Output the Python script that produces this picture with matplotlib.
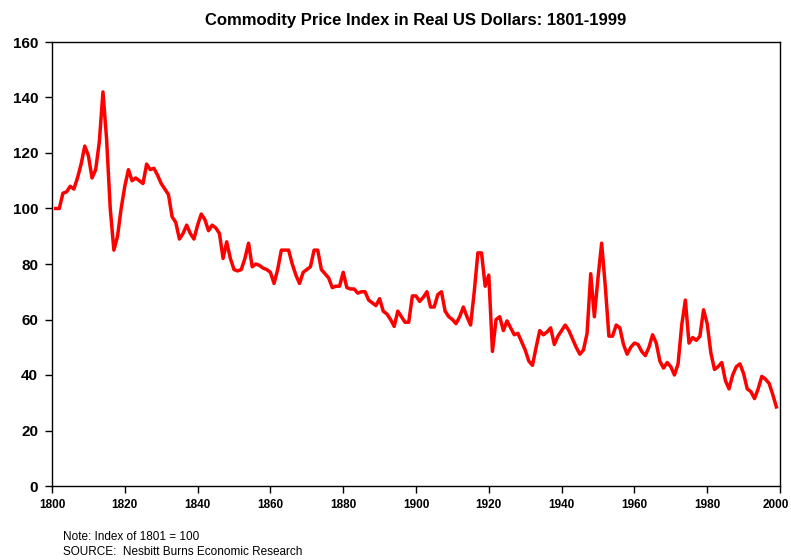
import numpy as np
import matplotlib
matplotlib.use("Agg")
import matplotlib.pyplot as plt

years = list(range(1801, 2000))
index_values = [
    100, 100, 105.5, 106, 108, 107, 111, 116, 122.5, 119,          # 1801-1810
    111, 114, 124, 142, 125, 100, 85, 90, 100, 108,                # 1811-1820
    114, 110, 111, 110, 109, 116, 114, 114.5, 112, 109,            # 1821-1830
    107, 105, 97, 95, 89, 91, 94, 91, 89, 94,                      # 1831-1840
    98, 96, 92, 94, 93, 91, 82, 88, 82, 78,                        # 1841-1850
    77.5, 78, 82, 87.5, 79, 80, 79.5, 78.5, 78, 77,                # 1851-1860
    73, 78, 85, 85, 85, 80, 76, 73, 77, 78,                        # 1861-1870
    79, 85, 85, 78, 76.5, 75, 71.5, 72, 72, 77,                    # 1871-1880
    71.5, 71, 71, 69.5, 70, 70, 67, 66, 65, 67.5,                  # 1881-1890
    63, 62, 60, 57.5, 63, 61, 59, 59, 68.5, 68.5,                  # 1891-1900
    66.5, 68, 70, 64.5, 64.5, 69, 70, 63, 61, 60,                  # 1901-1910
    58.5, 61, 64.5, 61, 58, 70, 84, 84, 72, 76,                    # 1911-1920
    48.5, 60, 61, 56, 59.5, 57, 54.5, 55, 52, 49,                  # 1921-1930
    45, 43.5, 50, 56, 54.5, 55.5, 57, 51, 54, 56,                  # 1931-1940
    58, 56, 53, 50, 47.5, 49, 55, 76.5, 61, 75,                    # 1941-1950
    87.5, 72, 54, 54, 58, 57, 51, 47.5, 50, 51.5,                  # 1951-1960
    51, 48.5, 47, 50, 54.5, 51.5, 45, 42.5, 44.5, 43,              # 1961-1970
    40, 44, 58, 67, 51.5, 53.5, 52.5, 54, 63.5, 58.5,              # 1971-1980
    48, 42, 43, 44.5, 38, 35, 40, 43, 44, 40.5,                    # 1981-1990
    35, 34, 31.5, 35, 39.5, 38.5, 37, 33, 28.5,                    # 1991-1999
]
x_ticks = [1800, 1820, 1840, 1860, 1880, 1900, 1920, 1940, 1960, 1980, 2000]
y_ticks = [0, 20, 40, 60, 80, 100, 120, 140, 160]

title = "Commodity Price Index in Real US Dollars: 1801-1999"
note_lines = ["Note: Index of 1801 = 100", "SOURCE:  Nesbitt Burns Economic Research"]

W, H = 791, 560
fig = plt.figure(figsize=(W / 100, H / 100), dpi=100)
ax = fig.add_axes([52 / W, (H - 486) / H, 728 / W, 444 / H])

ax.plot(years, index_values, color="#ff0000", lw=2.5, solid_joinstyle="round")

ax.set_xlim(1800, 2000)
ax.set_ylim(0, 160)
ax.set_xticks(x_ticks)
ax.set_yticks(y_ticks)

sans = ["Liberation Sans", "DejaVu Sans"]
xfont = dict(fontfamily=sans, fontweight="bold", fontsize=8.5)
# last label is drawn separately, slightly shifted so it stays inside the figure
ax.set_xticklabels([str(t) for t in x_ticks[:-1]] + [""], **xfont)
ax.annotate(str(x_ticks[-1]), xy=(x_ticks[-1], 0), xycoords=("data", "axes fraction"),
            xytext=(-3, -9), textcoords="offset points", ha="center", va="top", **xfont)
ax.set_yticklabels([str(t) for t in y_ticks], fontfamily=sans,
                   fontweight="bold", fontsize=11)

ax.tick_params(axis="both", direction="out", length=5, width=1, color="black")
ax.tick_params(axis="y", pad=5)
ax.tick_params(axis="x", pad=4)
for s in ax.spines.values():
    s.set_color("black")
    s.set_linewidth(1)

fig.text(416 / W, 1 - 20 / H, title, ha="center", va="center",
         fontfamily=sans, fontweight="bold", fontsize=12)

fig.text(63 / W, 1 - 537 / H, note_lines[0], ha="left", va="center",
         fontfamily=sans, fontsize=8.5)
fig.text(63 / W, 1 - 552 / H, note_lines[1], ha="left", va="center",
         fontfamily=sans, fontsize=8.5)

fig.savefig("out.png", dpi=100, facecolor="white")
